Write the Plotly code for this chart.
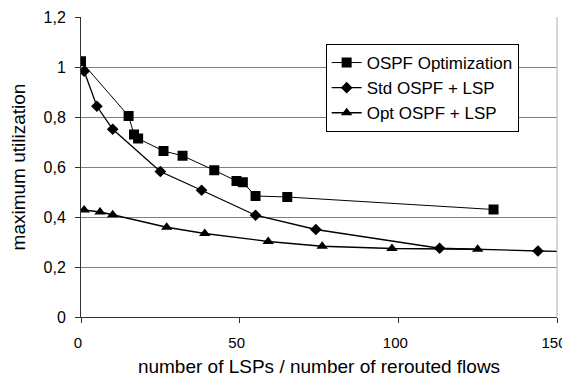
import plotly.graph_objects as go

ospf_x = [0, 15, 16.7, 18, 26, 32, 42, 49, 51, 55, 65, 130]
ospf_y = [1.023, 0.804, 0.73, 0.714, 0.664, 0.645, 0.587, 0.544, 0.539, 0.484, 0.48, 0.43]

std_x = [1, 5, 10, 25, 38, 55, 74, 113, 144, 152]
std_y = [0.983, 0.843, 0.751, 0.582, 0.507, 0.407, 0.35, 0.275, 0.264, 0.262]

opt_x = [1, 6, 10, 27, 39, 59, 76, 98, 125]
opt_y = [0.428, 0.42, 0.409, 0.359, 0.334, 0.302, 0.283, 0.274, 0.271]

series_names = ["OSPF Optimization", "Std OSPF + LSP", "Opt OSPF + LSP"]
y_ticks = [0, 0.2, 0.4, 0.6, 0.8, 1.0, 1.2]
x_ticks = [0, 50, 100, 150]

fig = go.Figure()
fig.add_trace(go.Scatter(x=ospf_x, y=ospf_y, name=series_names[0], mode="lines+markers",
                         line=dict(color="black", width=1),
                         marker=dict(symbol="square", size=10, color="black")))
fig.add_trace(go.Scatter(x=std_x, y=std_y, name=series_names[1], mode="lines+markers",
                         line=dict(color="black", width=1.3),
                         marker=dict(symbol="diamond", size=9, color="black")))
fig.add_trace(go.Scatter(x=opt_x, y=opt_y, name=series_names[2], mode="lines+markers",
                         line=dict(color="black", width=1.3),
                         marker=dict(symbol="triangle-up", size=10, color="black")))

font = "Liberation Sans, Arial, sans-serif"
fig.update_layout(
    width=562, height=372,
    margin=dict(l=73, r=13, t=9, b=63),
    paper_bgcolor="white", plot_bgcolor="white",
    separators=", ",
    font=dict(family=font, size=16, color="black"),
    showlegend=True,
    legend=dict(x=0.514, y=0.91, xanchor="left", yanchor="top",
                bgcolor="white", bordercolor="black", borderwidth=1,
                font=dict(size=17), itemwidth=30, tracegroupgap=0),
    xaxis=dict(range=[0, 150], tickvals=x_ticks, showgrid=False, zeroline=False,
               showline=True, linecolor="#333", linewidth=1, automargin=False,
               ticks="outside", ticklen=5, tickcolor="#333", tickfont=dict(size=15),
               ticklabelstandoff=7, ticklabelshift=-3, ticklabeloverflow="allow",
               title=dict(text="number of LSPs / number of rerouted flows",
                          font=dict(size=19), standoff=9)),
    yaxis=dict(range=[0, 1.2], tickvals=y_ticks, showgrid=True, gridcolor="#808080",
               gridwidth=1, zeroline=False, showline=True, linecolor="#333", linewidth=1,
               ticks="outside", ticklen=5, tickcolor="#333", tickformat=".1~f",
               automargin=False, tickfont=dict(size=16), ticklabelstandoff=6,
               title=dict(text="maximum utilization", font=dict(size=19), standoff=15)),
    shapes=[dict(type="line", xref="paper", yref="paper", x0=1, x1=1, y0=0, y1=1,
                 line=dict(color="#b0b0b0", width=1))],
)

fig.write_html("out.html")
